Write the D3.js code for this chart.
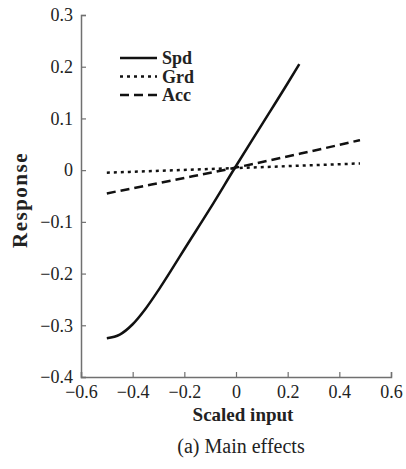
<!DOCTYPE html>
<html>
<head>
<meta charset="utf-8">
<script src="https://cdn.jsdelivr.net/npm/d3@7"></script>
<style>
  body { margin: 0; background: #fff; }
  svg text { font-family: "Times New Roman", "Liberation Serif", "DejaVu Serif", serif; fill: #222; }
</style>
</head>
<body>
<div id="container"></div>
<script>
// values
let spdX = [-0.5, -0.45, -0.4, -0.35, -0.3, -0.25, -0.2, -0.1, 0, 0.1, 0.2, 0.245]
let spdY = [-0.325, -0.318, -0.298, -0.268, -0.232, -0.193, -0.153, -0.074, 0.008, 0.088, 0.168, 0.205]
let grdX = [-0.5, 0, 0.48]
let grdY = [-0.005, 0.004, 0.013]
let accX = [-0.5, -0.25, 0, 0.25, 0.48]
let accY = [-0.045, -0.02, 0.005, 0.032, 0.058]
let xTicks = [-0.6, -0.4, -0.2, 0, 0.2, 0.4, 0.6]
let yTicks = [0.3, 0.2, 0.1, 0, -0.1, -0.2, -0.3, -0.4]
let names = ['Spd', 'Grd', 'Acc']

let w = 406;
let h = 469;

let x = d3.scaleLinear().domain([-0.6, 0.6]).range([81, 391])
let y = d3.scaleLinear().domain([-0.4, 0.3]).range([377, 15])

let fmt = d => d === 0 ? '0' : d3.format('.1f')(d).replace('-', '\u2212')

let svg = d3.select('#container')
  .append('svg')
  .attr('width', w)
  .attr('height', h)

let axisColor = '#707070'

let gy = svg.append('g')
  .attr('transform', 'translate(81,0)')
  .call(d3.axisLeft(y).tickValues(yTicks).tickFormat(fmt).tickSize(-5).tickPadding(8))
gy.select('.domain').attr('stroke', axisColor).attr('stroke-width', 1.5)
gy.selectAll('.tick line').attr('stroke', axisColor).attr('stroke-width', 1.2)
gy.selectAll('.tick text').attr('fill', '#333').style('font-size', '18px')

let gx = svg.append('g')
  .attr('transform', 'translate(0,377)')
  .call(d3.axisBottom(x).tickValues(xTicks).tickFormat(fmt).tickSize(-5).tickPadding(8))
gx.select('.domain').attr('stroke', axisColor).attr('stroke-width', 1.5)
gx.selectAll('.tick line').attr('stroke', axisColor).attr('stroke-width', 1.2)
gx.selectAll('.tick text').attr('fill', '#333').style('font-size', '18px')

let line = d3.line().x(d => x(d[0])).y(d => y(d[1])).curve(d3.curveMonotoneX)

let series = [
  { pts: d3.zip(spdX, spdY), dash: null },
  { pts: d3.zip(grdX, grdY), dash: '3,4' },
  { pts: d3.zip(accX, accY), dash: '9,5' }
]

svg.selectAll('path.series')
  .data(series)
  .enter()
  .append('path')
  .attr('class', 'series')
  .attr('d', d => line(d.pts))
  .attr('fill', 'none')
  .attr('stroke', '#111')
  .attr('stroke-width', 2.5)
  .attr('stroke-dasharray', d => d.dash)

// legend
let leg = svg.append('g')
leg.selectAll('line')
  .data(series)
  .enter()
  .append('line')
  .attr('x1', 120).attr('x2', 157)
  .attr('y1', (d, i) => 58 + i * 18.5)
  .attr('y2', (d, i) => 58 + i * 18.5)
  .attr('stroke', '#111')
  .attr('stroke-width', 2.5)
  .attr('stroke-dasharray', d => d.dash)
leg.selectAll('text')
  .data(names)
  .enter()
  .append('text')
  .attr('x', 162)
  .attr('y', (d, i) => 64 + i * 18.5)
  .style('font-size', '18px')
  .style('font-weight', 'bold')
  .text(d => d)

svg.append('text')
  .attr('transform', 'translate(27,200) rotate(-90)')
  .attr('text-anchor', 'middle')
  .style('font-size', '21px')
  .style('font-weight', 'bold')
  .style('letter-spacing', '1.5px')
  .text('Response')

svg.append('text')
  .attr('x', 243).attr('y', 421)
  .attr('text-anchor', 'middle')
  .style('font-size', '19px')
  .style('font-weight', 'bold')
  .text('Scaled input')

svg.append('text')
  .attr('x', 241).attr('y', 453)
  .attr('text-anchor', 'middle')
  .style('font-size', '20px')
  .text('(a) Main  effects')
</script>
</body>
</html>
